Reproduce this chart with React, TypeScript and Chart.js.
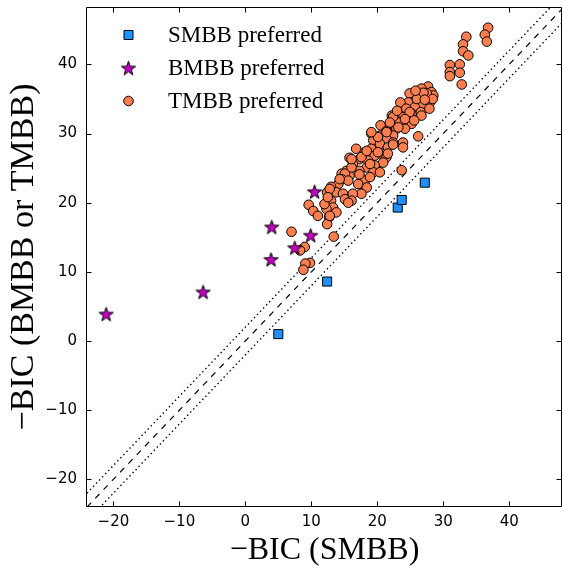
import React, { useEffect, useRef } from 'react';
import { Chart, registerables } from 'chart.js';

Chart.register(...registerables);

// ---- data ----
const smbbX = [5.0, 12.4, 23.1, 23.7, 27.2];
const smbbY = [1.0, 8.6, 19.3, 20.4, 22.9];

const bmbbX = [-21.1, -6.4, 3.9, 4.0, 7.5, 9.9, 10.5];
const bmbbY = [3.9, 7.1, 11.8, 16.5, 13.5, 15.3, 21.6];

const tmbbPoints: [number, number][] = [
  [36.8, 45.3], [36.3, 44.3], [36.6, 43.3], [33.5, 44.0], [33.0, 42.9], [33.0, 41.9], [33.8, 41.3],
  [31.0, 39.9], [31.0, 38.9], [31.0, 38.3], [32.5, 40.0], [32.5, 38.8], [32.8, 37.1],
  [27.7, 36.8], [26.7, 36.5], [28.2, 36.0], [28.5, 35.5], [27.5, 35.8], [26.4, 35.3], [24.9, 35.8],
  [25.4, 34.5], [24.7, 34.5], [23.5, 34.5], [28.0, 34.5], [26.9, 34.3], [25.7, 33.8], [24.4, 33.6],
  [25.2, 32.9], [26.6, 33.1], [28.4, 35.0], [27.0, 35.9], [26.0, 35.0], [27.9, 33.6],
  [23.9, 32.4], [22.7, 32.1], [22.2, 32.6], [24.4, 31.9], [23.4, 31.6], [25.2, 31.4], [21.9, 31.4],
  [20.5, 31.2], [22.9, 30.7], [24.2, 30.7], [21.4, 30.4], [26.2, 29.6], [22.4, 29.7], [19.1, 30.0],
  [20.4, 29.7], [21.4, 29.2], [19.4, 29.0], [20.4, 28.5], [23.9, 28.7], [23.9, 28.0], [22.4, 28.7],
  [21.6, 28.0], [19.1, 27.8], [16.8, 27.8], [18.1, 27.3], [20.6, 27.1], [19.6, 26.8], [21.4, 26.6],
  [17.3, 26.3], [15.8, 26.5], [18.6, 26.1], [20.9, 25.8], [16.3, 25.6], [19.6, 25.4], [18.4, 25.1],
  [23.7, 24.7], [15.3, 24.6], [17.3, 24.6], [19.4, 24.4], [15.8, 23.9], [14.6, 24.2],
  [17.6, 26.6], [21.6, 27.1], [18.9, 25.6], [20.4, 24.4], [15.1, 24.2], [14.6, 23.4], [15.6, 23.2],
  [17.3, 22.7], [18.1, 23.2], [18.4, 22.2], [17.6, 21.3], [14.1, 22.7], [13.0, 22.3], [12.4, 21.5],
  [13.8, 21.5], [14.8, 21.3], [16.3, 21.3], [15.1, 20.5], [16.1, 20.3], [13.0, 20.3], [13.3, 19.3],
  [13.8, 18.6], [12.3, 19.1], [9.6, 19.7], [10.3, 18.8], [11.0, 18.1], [12.7, 17.9], [12.4, 16.9],
  [7.0, 15.8], [13.4, 15.1], [9.0, 13.6], [8.3, 13.1], [9.8, 11.3], [9.1, 11.2], [8.8, 10.3],
  [12.0, 19.8], [15.6, 20.0], [12.8, 22.0], [17.1, 22.7], [18.9, 23.7], [17.3, 24.1], [16.1, 25.1],
  [20.1, 27.3], [18.4, 27.5], [22.4, 28.4], [20.1, 29.5], [19.1, 30.2], [21.4, 30.2], [23.2, 30.9],
  [22.4, 32.4], [24.9, 33.1], [26.7, 32.6], [24.2, 32.1], [21.9, 31.6], [12.8, 18.1], [12.5, 20.8],
  [14.3, 23.4], [16.1, 26.3], [25.8, 36.2], [27.2, 34.9], [23.0, 33.3], [25.6, 31.9],
];

const xTicks = [-20, -10, 0, 10, 20, 30, 40];
const yTicks = [-20, -10, 0, 10, 20, 30, 40];
const xRange = [-24, 48];
const yRange = [-24, 48.3];
const thresholdOffsets = [2, -2];

const legendLabels = ['SMBB preferred', 'BMBB preferred', 'TMBB preferred'];
const xTitle = '\u2212BIC (SMBB)';
const yTitle = '\u2212BIC (BMBB or TMBB)';

// ---- styles ----
const SQUARE_COLOR = '#1E90FF';
const STAR_COLOR = '#BF00BF';
const CIRCLE_COLOR = '#FF7F50';

function makeStar(R: number): HTMLCanvasElement {
  const size = Math.ceil(R * 2 + 4);
  const c = document.createElement('canvas');
  c.width = size;
  c.height = size;
  const g = c.getContext('2d')!;
  const cx = size / 2;
  const cy = size / 2 + R * 0.1;
  const r = R * 0.4;
  g.beginPath();
  for (let i = 0; i < 10; i++) {
    const rad = i % 2 === 0 ? R : r;
    const a = -Math.PI / 2 + (i * Math.PI) / 5;
    const px = cx + rad * Math.cos(a);
    const py = cy + rad * Math.sin(a);
    if (i === 0) g.moveTo(px, py);
    else g.lineTo(px, py);
  }
  g.closePath();
  g.fillStyle = STAR_COLOR;
  g.fill();
  g.lineWidth = 1;
  g.strokeStyle = '#000';
  g.lineJoin = 'miter';
  g.stroke();
  return c;
}

const fmt = (v: number | string) => {
  const n = Number(v);
  return n < 0 ? '\u2212' + Math.abs(n) : String(n);
};

export default function App() {
  const ref = useRef<HTMLCanvasElement | null>(null);

  useEffect(() => {
    if (!ref.current) return;
    const star = makeStar(7.5);

    const framePlugin = {
      id: 'frame',
      afterLayout(chart: any) {
        // pin the plot area to the reference frame
        const ca = chart.chartArea;
        ca.left = 87;
        ca.right = 562;
        ca.top = 7;
        ca.bottom = 507;
        ca.width = ca.right - ca.left;
        ca.height = ca.bottom - ca.top;
        const x = chart.scales.x;
        x.left = 87;
        x.right = 562;
        x.width = 475;
        x.configure();
        const y = chart.scales.y;
        y.top = 7;
        y.bottom = 507;
        y.height = 500;
        y.configure();
      },
      afterDatasetsDraw(chart: any) {
        const { ctx, chartArea, scales } = chart;
        const { left, right, top, bottom } = chartArea;
        ctx.save();
        ctx.strokeStyle = '#000';
        ctx.lineWidth = 1;
        const L = Math.round(left) - 0.5;
        const R = Math.round(right) - 0.5;
        const T = Math.round(top) + 0.5;
        const B = Math.round(bottom) - 0.5;
        ctx.beginPath();
        ctx.rect(L, T, R - L, B - T);
        ctx.stroke();
        const tl = 5;
        ctx.beginPath();
        for (const v of xTicks) {
          const px = Math.round(scales.x.getPixelForValue(v)) + 0.5;
          ctx.moveTo(px, B);
          ctx.lineTo(px, B - tl);
          ctx.moveTo(px, T);
          ctx.lineTo(px, T + tl);
        }
        for (const v of yTicks) {
          const py = Math.round(scales.y.getPixelForValue(v)) + 0.5;
          ctx.moveTo(L, py);
          ctx.lineTo(L + tl, py);
          ctx.moveTo(R, py);
          ctx.lineTo(R - tl, py);
        }
        ctx.stroke();

        // legend
        const rows = [35, 68, 101];
        const mx = 128.5;
        const tx = 168;
        ctx.font = '23px "Liberation Serif"';
        ctx.fillStyle = '#000';
        ctx.textBaseline = 'middle';
        ctx.textAlign = 'left';
        legendLabels.forEach((lab, i) => {
          const y = rows[i];
          if (i === 0) {
            ctx.beginPath();
            ctx.rect(mx - 4.5, y - 4.5, 9, 9);
            ctx.fillStyle = SQUARE_COLOR;
            ctx.fill();
            ctx.strokeStyle = '#000';
            ctx.stroke();
          } else if (i === 1) {
            ctx.drawImage(star, mx - star.width / 2, y - star.height / 2);
          } else {
            ctx.beginPath();
            ctx.arc(mx, y, 4.8, 0, Math.PI * 2);
            ctx.fillStyle = CIRCLE_COLOR;
            ctx.fill();
            ctx.strokeStyle = '#000';
            ctx.stroke();
          }
          ctx.fillStyle = '#000';
          ctx.fillText(lab, tx, y + 1);
        });
        ctx.restore();
      },
    };

    const lineData = (off: number) => [
      { x: xRange[0], y: xRange[0] + off },
      { x: xRange[1], y: xRange[1] + off },
    ];

    const chart = new Chart(ref.current, {
      type: 'scatter',
      data: {
        datasets: [
          {
            label: legendLabels[0],
            data: smbbX.map((x, i) => ({ x, y: smbbY[i] })),
            pointStyle: 'rect',
            pointRadius: 6.4,
            backgroundColor: SQUARE_COLOR,
            borderColor: '#000',
            borderWidth: 1,
          },
          {
            label: legendLabels[1],
            data: bmbbX.map((x, i) => ({ x, y: bmbbY[i] })),
            pointStyle: star as any,
            pointRadius: 7,
            backgroundColor: STAR_COLOR,
            borderColor: '#000',
          },
          {
            label: legendLabels[2],
            data: tmbbPoints.map(([x, y]) => ({ x, y })),
            pointStyle: 'circle',
            pointRadius: 4.8,
            backgroundColor: CIRCLE_COLOR,
            borderColor: '#000',
            borderWidth: 1,
          },
          {
            type: 'line' as any,
            label: 'equal',
            data: lineData(0),
            borderColor: '#000',
            borderWidth: 1.2,
            borderDash: [6, 6],
            pointRadius: 0,
            fill: false,
          },
          ...thresholdOffsets.map((off) => ({
            type: 'line' as any,
            label: 'thr' + off,
            data: lineData(off),
            borderColor: '#000',
            borderWidth: 1.4,
            borderDash: [1.4, 3],
            pointRadius: 0,
            fill: false,
          })),
        ] as any,
      },
      options: {
        animation: false,
        responsive: false,
        events: [],
        layout: { padding: { top: 7, right: 1, left: 0, bottom: 0 } },
        plugins: { legend: { display: false }, tooltip: { enabled: false } },
        scales: {
          x: {
            type: 'linear',
            min: xRange[0],
            max: xRange[1],
            afterBuildTicks: (s: any) => {
              s.ticks = xTicks.map((v) => ({ value: v }));
            },
            afterFit: (s: any) => {
              s.height = 60;
              s.paddingLeft = 0;
              s.paddingRight = 0;
            },
            grid: { display: false, drawTicks: false },
            border: { display: false },
            ticks: {
              font: { family: 'DejaVu Sans', size: 15 },
              color: '#000',
              padding: 6,
              maxRotation: 0,
              autoSkip: false,
              callback: fmt,
            },
            title: {
              display: true,
              text: xTitle,
              font: { family: 'Liberation Serif', size: 32, lineHeight: 1 },
              color: '#000',
              padding: { top: 0, bottom: 0 },
            },
          },
          y: {
            type: 'linear',
            min: yRange[0],
            max: yRange[1],
            afterBuildTicks: (s: any) => {
              s.ticks = yTicks.map((v) => ({ value: v }));
            },
            afterFit: (s: any) => {
              s.width = 87;
              s.paddingTop = 0;
              s.paddingBottom = 0;
            },
            grid: { display: false, drawTicks: false },
            border: { display: false },
            ticks: {
              font: { family: 'DejaVu Sans', size: 15 },
              color: '#000',
              padding: 10,
              autoSkip: false,
              callback: fmt,
            },
            title: {
              display: true,
              text: yTitle,
              font: { family: 'Liberation Serif', size: 34, lineHeight: 1 },
              color: '#000',
              padding: { top: 7, bottom: 0 },
            },
          },
        },
      } as any,
      plugins: [framePlugin],
    });
    return () => chart.destroy();
  }, []);

  return (
    <div style={{ position: 'fixed', left: 0, top: 0, width: 563, height: 567, background: '#fff' }}>
      <canvas ref={ref} width={563} height={567} style={{ display: 'block' }} />
    </div>
  );
}
